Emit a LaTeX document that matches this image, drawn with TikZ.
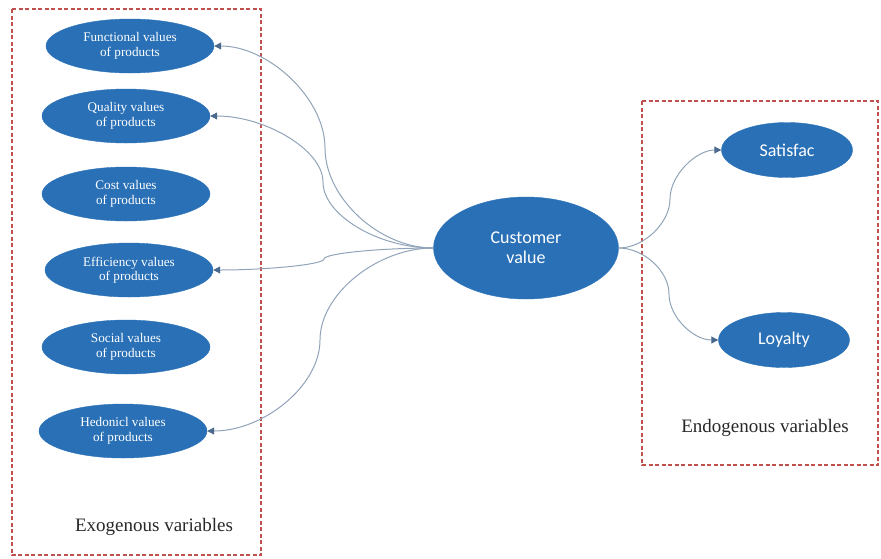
\documentclass[tikz,border=0pt]{standalone}
\usepackage{fontspec}
\setmainfont{Liberation Serif}
\newfontfamily\labelsans{Carlito}
\usetikzlibrary{arrows.meta,shapes.geometric}
\definecolor{nodeblue}{RGB}{41,112,182}
\definecolor{boxred}{RGB}{192,80,77}
\definecolor{linkgrey}{RGB}{145,163,185}
\definecolor{tipgrey}{RGB}{75,105,140}
\definecolor{labelgrey}{RGB}{40,40,40}

\begin{document}
\begin{tikzpicture}[x=1pt,y=1pt,
  exo/.style={ellipse, fill=nodeblue, draw=nodeblue, minimum width=168pt,
    minimum height=54pt, inner sep=0pt, text=white, align=center,
    font=\fontsize{13.2}{14.5}\selectfont},
  core/.style={ellipse, fill=nodeblue, draw=nodeblue, minimum width=185pt,
    minimum height=102pt, inner sep=0pt, text=white, align=center,
    font=\labelsans\fontsize{18}{20}\selectfont},
  endo/.style={ellipse, fill=nodeblue, draw=nodeblue, minimum width=131pt,
    minimum height=55pt, inner sep=0pt, text=white, align=center,
    font=\labelsans\fontsize{18}{20}\selectfont},
  groupbox/.style={draw=boxred, line width=1.3pt, dash pattern=on 4pt off 2.5pt},
  grouplabel/.style={text=labelgrey, font=\fontsize{19}{22}\selectfont},
  link/.style={draw=linkgrey, line width=1pt,
    -{Triangle[length=7pt,width=7pt,color=tipgrey]}}
]
\useasboundingbox (0,0) rectangle (881,-558);

% group frames
\draw[groupbox] (12,-9) rectangle (261,-555);
\draw[groupbox] (642,-101) rectangle (878,-465);

% exogenous variables
\node[exo] (fv) at (130,-46)  {Functional values\\of products};
\node[exo] (qv) at (126,-116) {Quality values\\of products};
\node[exo] (kv) at (126,-194) {Cost values\\of products};
\node[exo] (ev) at (129,-270) {Efficiency values\\of products};
\node[exo] (sv) at (126,-347) {Social values\\of products};
\node[exo] (hv) at (123,-431) {Hedonicl values\\of products};

% central construct
\node[core] (cv) at (526,-248) {Customer\\value};

% endogenous variables
\node[endo] (sat) at (787,-150) {Satisfac};
\node[endo] (loy) at (784,-340) {Loyalty};

% group captions
\node[grouplabel] (exolab) at (154,-527) {Exogenous variables};
\node[grouplabel] (endolab) at (765,-428) {Endogenous variables};

% turning points of the curved connectors
\coordinate (m1) at (325,-148);
\coordinate (m2) at (323,-182);
\coordinate (m3) at (324,-259);
\coordinate (m4) at (320,-340);
\coordinate (m5) at (670,-199);
\coordinate (m6) at (669,-294);

% connectors: two cubic halves meeting with a vertical tangent
\draw[link] (cv.west) .. controls +(-54,0) and +(0,-50) .. (m1)
                      .. controls +(0,50) and +(54,0) .. (fv.east);
\draw[link] (cv.west) .. controls +(-55,0) and +(0,-33) .. (m2)
                      .. controls +(0,32) and +(55,0) .. (qv.east);
\draw[link] (cv.west) .. controls +(-54,0) and +(0,5.5) .. (m3)
                      .. controls +(0,-5.5) and +(54,0) .. (ev.east);
\draw[link] (cv.west) .. controls +(-56,0) and +(0,46) .. (m4)
                      .. controls +(0,-46) and +(56,0) .. (hv.east);
\draw[link] (cv.east) .. controls +(25,0) and +(0,-24) .. (m5)
                      .. controls +(0,24) and +(-25,0) .. (sat.west);
\draw[link] (cv.east) .. controls +(25,0) and +(0,23) .. (m6)
                      .. controls +(0,-23) and +(-25,0) .. (loy.west);
\end{tikzpicture}
\end{document}
